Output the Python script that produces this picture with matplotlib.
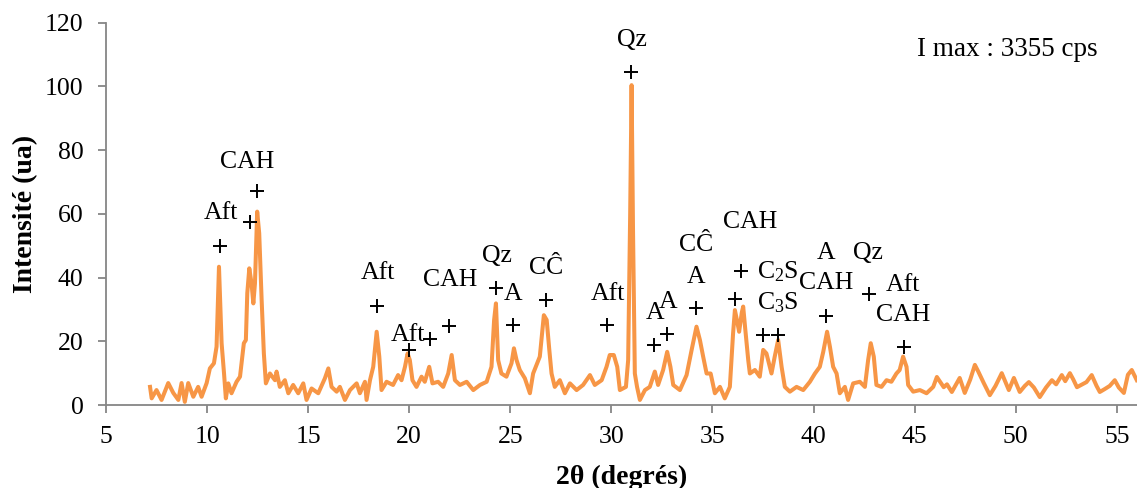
import matplotlib
matplotlib.use("Agg")
import matplotlib.pyplot as plt

plt.rcParams['font.family'] = ['Liberation Serif', 'DejaVu Serif']
plt.rcParams['mathtext.fontset'] = 'custom'
plt.rcParams['mathtext.rm'] = 'Liberation Serif'
plt.rcParams['mathtext.it'] = 'Liberation Serif:italic'

# ---- diffractogram (2theta, intensity) ----
two_theta = [
    7.18, 7.26, 7.5, 7.75, 8.08, 8.33, 8.58, 8.74, 8.9, 9.07, 9.32, 9.56, 9.73, 9.98,
    10.14, 10.34, 10.47, 10.59, 10.72, 10.84, 10.93, 11.05, 11.21, 11.46, 11.63, 11.82,
    11.92, 11.99, 12.09, 12.2, 12.29, 12.37, 12.48, 12.58, 12.7, 12.81, 12.91, 13.11,
    13.36, 13.44, 13.6, 13.85, 14.02, 14.26, 14.51, 14.76, 14.92, 15.17, 15.5, 15.83,
    16.0, 16.16, 16.41, 16.57, 16.82, 17.07, 17.4, 17.56, 17.81, 17.89, 18.06, 18.22,
    18.39, 18.52, 18.63, 18.88, 19.2, 19.45, 19.62, 19.79, 19.92, 20.03, 20.16, 20.36,
    20.61, 20.77, 20.99, 21.15, 21.43, 21.68, 21.93, 22.1, 22.26, 22.51, 22.84, 23.17,
    23.5, 23.83, 24.07, 24.2, 24.29, 24.4, 24.56, 24.81, 25.06, 25.18, 25.31, 25.47,
    25.72, 25.97, 26.13, 26.3, 26.46, 26.66, 26.8, 26.93, 27.04, 27.2, 27.45, 27.7,
    27.95, 28.28, 28.6, 28.94, 29.18, 29.52, 29.76, 29.92, 30.12, 30.29, 30.42, 30.72,
    30.83, 30.93, 31.0, 31.07, 31.16, 31.27, 31.41, 31.66, 31.9, 32.15, 32.31, 32.56,
    32.76, 32.92, 33.06, 33.39, 33.72, 33.97, 34.21, 34.38, 34.54, 34.71, 34.91, 35.12,
    35.37, 35.61, 35.86, 36.02, 36.11, 36.2, 36.32, 36.45, 36.52, 36.62, 36.77, 36.85,
    37.1, 37.34, 37.51, 37.67, 37.92, 38.08, 38.25, 38.42, 38.58, 38.83, 39.16, 39.49,
    39.82, 40.07, 40.31, 40.48, 40.67, 40.81, 40.97, 41.14, 41.3, 41.55, 41.71, 41.96,
    42.29, 42.54, 42.7, 42.83, 42.98, 43.11, 43.36, 43.61, 43.85, 44.1, 44.26, 44.43,
    44.6, 44.68, 44.93, 45.26, 45.59, 45.92,
    46.1, 46.44, 46.6, 46.84, 47.23, 47.48, 47.75, 47.98, 48.15, 48.42, 48.72, 49.0,
    49.31, 49.66, 49.91, 50.2, 50.45, 50.65, 50.9, 51.19, 51.5, 51.79, 52.0, 52.28,
    52.45, 52.68, 52.85, 53.03, 53.3, 53.5, 53.76, 54.0, 54.16, 54.4, 54.65, 54.9,
    55.1, 55.35, 55.55, 55.74, 55.99,
]
intensity = [
    5.7, 2.1, 4.7, 1.6, 6.9, 3.8, 1.6, 6.9, 1.0, 6.9, 2.6, 5.7, 2.6, 6.9,
    11.5, 13.1, 18.3, 43.4, 19.4, 9.9, 2.1, 6.8, 3.7, 7.3, 8.9, 19.4,
    20.4, 35.1, 42.9, 38.2, 31.9, 38.2, 60.7, 53.9, 33.0, 16.2, 6.8, 9.9,
    7.8, 10.5, 5.7, 7.8, 3.7, 6.3, 3.7, 6.8, 1.6, 5.2, 3.7, 8.4,
    11.5, 5.7, 4.2, 5.7, 1.6, 4.7, 6.8, 3.7, 7.3, 1.6, 7.8, 12.0,
    23.0, 15.2, 4.7, 7.3, 6.3, 9.4, 7.8, 12.0, 16.2, 14.1, 7.8, 5.7,
    8.9, 7.3, 12.0, 6.8, 7.3, 5.7, 9.9, 15.7, 7.8, 6.3, 7.3, 4.7,
    6.3, 7.3, 12.0, 26.7, 31.9, 14.1, 9.9, 8.9, 13.1, 17.8, 14.1, 11.0,
    8.4, 3.7, 9.9, 12.6, 15.2, 28.2, 26.7, 17.3, 9.9, 5.7, 7.8, 3.7,
    6.8, 4.7, 6.3, 9.4, 6.3, 7.8, 12.0, 15.7, 15.7, 12.0, 4.7, 5.7,
    14.1, 60.0, 100.4, 55.0, 9.9, 5.7, 1.6, 4.7, 5.7, 10.5, 6.3, 11.0,
    16.7, 12.0, 6.3, 4.7, 9.4, 17.3, 24.6, 20.4, 15.2, 9.9, 9.9, 3.7,
    5.7, 2.1, 5.7, 22.5, 29.8, 27.0, 23.0, 29.0, 30.9, 24.0, 14.1, 9.9,
    11.0, 8.9, 17.3, 16.2, 9.9, 15.2, 20.4, 12.0, 5.7, 4.2, 5.7, 4.7,
    7.3, 9.9, 12.0, 16.7, 23.0, 18.3, 12.0, 9.9, 3.7, 5.7, 1.6, 6.8,
    7.3, 5.7, 14.1, 19.4, 15.2, 6.3, 5.7, 7.8, 7.3, 9.9, 11.0, 15.2,
    12.0, 6.3, 4.2, 4.7, 3.7, 5.7,
    8.8, 5.6, 6.5, 4.1, 8.5, 3.8, 8.0, 12.6, 10.5, 6.9, 3.1, 6.0,
    10.0, 4.7, 8.5, 4.1, 6.0, 7.2, 5.5, 2.5, 5.5, 7.8, 6.5, 9.4,
    7.5, 10.0, 8.0, 5.6, 6.5, 7.2, 9.4, 6.0, 4.1, 5.0, 6.0, 7.8,
    5.5, 3.8, 9.5, 11.0, 7.8,
]

# ---- peak markers (+) ----
mark_x = [10.64, 12.12, 12.48, 18.42, 19.99, 21.02, 21.98, 24.27, 25.14, 26.79,
          29.79, 30.96, 32.10, 32.76, 34.21, 36.11, 36.43, 37.51, 38.25, 40.64,
          42.75, 44.47]
mark_y = [49.9, 57.5, 67.3, 31.2, 17.3, 20.6, 24.8, 36.8, 25.1, 33.0,
          25.1, 104.6, 18.8, 22.2, 30.3, 33.2, 42.2, 22.0, 22.0, 27.9,
          34.8, 18.1]

# ---- phase labels ----
label_text = ['Aft', 'CAH', 'Aft', 'Aft', 'CAH', 'Qz', 'A', 'CĈ', 'Aft', 'Qz',
              'A', 'A', 'CĈ', 'A', 'CAH', 'C$_2$S', 'C$_3$S', 'A', 'CAH', 'Qz',
              'Aft', 'CAH']
label_x = [10.69, 11.96, 18.47, 19.95, 22.01, 24.32, 25.14, 26.79, 29.81, 31.0,
           32.15, 32.81, 34.21, 34.21, 36.85, 38.25, 38.25, 40.64, 40.64, 42.70,
           44.43, 44.43]
label_y = [60.3, 76.4, 41.3, 22.0, 39.4, 46.8, 34.8, 42.9, 34.8, 114.6,
           28.8, 32.4, 50.2, 40.3, 57.5, 41.8, 32.1, 47.6, 38.2, 47.6,
           37.7, 28.2]

x_ticks = [5, 10, 15, 20, 25, 30, 35, 40, 45, 50, 55]
y_ticks = [0, 20, 40, 60, 80, 100, 120]

fig = plt.figure(figsize=(11.37, 4.88), dpi=100)
ax = fig.add_axes([0.0932, 0.170, 0.9068, 0.7835])

ax.plot(two_theta, intensity, color='#F79646', lw=2.9, solid_joinstyle='round')
ax.plot(mark_x, mark_y, linestyle='none', marker='+', color='black',
        markersize=10, markeredgewidth=1.4)
for t, x, y in zip(label_text, label_x, label_y):
    ax.text(x, y, t, ha='center', va='center', fontsize=18.5, color='black')

ax.text(49.6, 111.6, 'I max : 3355 cps', ha='center', va='center', fontsize=19.5)

ax.set_xlim(5, 56)
ax.set_ylim(0, 120)
ax.set_xticks(x_ticks)
ax.set_yticks(y_ticks)
ax.tick_params(axis='both', labelsize=18.5, color='#868686', length=6, width=1.3,
               direction='out')
ax.tick_params(axis='y', pad=10)
ax.tick_params(axis='x', pad=9)
for s in ['top', 'right']:
    ax.spines[s].set_visible(False)
for s in ['left', 'bottom']:
    ax.spines[s].set_color('#868686')
    ax.spines[s].set_linewidth(1.3)

ax.set_xlabel('2θ (degrés)', fontsize=20, fontweight='bold', labelpad=12)
ax.set_ylabel('Intensité (ua)', fontsize=20, fontweight='bold', labelpad=5)

fig.savefig('out.png', dpi=100)
